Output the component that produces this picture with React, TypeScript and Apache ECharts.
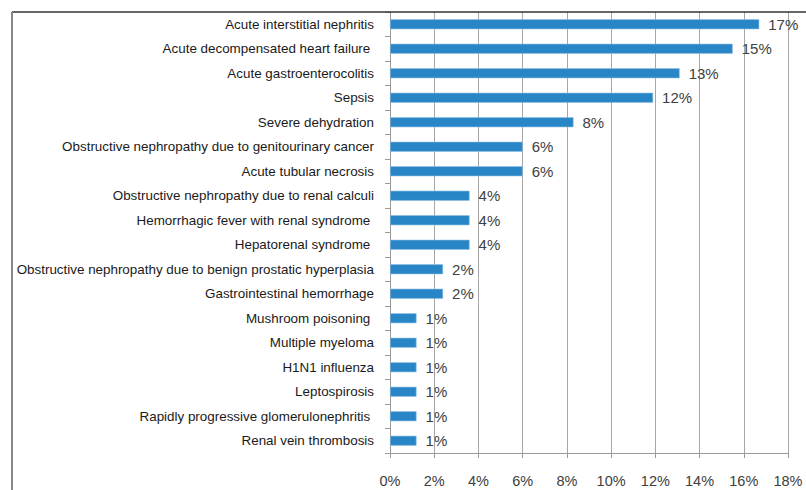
import React, { useEffect, useRef } from "react";
import * as echarts from "echarts";

const categories = [
  "Acute interstitial nephritis",
  "Acute decompensated heart failure ",
  "Acute gastroenterocolitis",
  "Sepsis",
  "Severe dehydration",
  "Obstructive nephropathy due to genitourinary cancer",
  "Acute tubular necrosis",
  "Obstructive nephropathy due to renal calculi",
  "Hemorrhagic fever with renal syndrome ",
  "Hepatorenal syndrome ",
  "Obstructive nephropathy due to benign prostatic hyperplasia",
  "Gastrointestinal hemorrhage",
  "Mushroom poisoning ",
  "Multiple myeloma",
  "H1N1 influenza",
  "Leptospirosis",
  "Rapidly progressive glomerulonephritis ",
  "Renal vein thrombosis",
];

const values = [16.7, 15.5, 13.1, 11.9, 8.3, 6.0, 6.0, 3.6, 3.6, 3.6, 2.4, 2.4, 1.2, 1.2, 1.2, 1.2, 1.2, 1.2];

const valueLabels = ["17%", "15%", "13%", "12%", "8%", "6%", "6%", "4%", "4%", "4%", "2%", "2%", "1%", "1%", "1%", "1%", "1%", "1%"];

const xTicks = { min: 0, max: 18, interval: 2 };

export default function App() {
  const ref = useRef<HTMLDivElement>(null);
  useEffect(() => {
    if (!ref.current) return;
    const chart = echarts.init(ref.current, undefined, { renderer: "svg" });
    const font = "'Liberation Sans', Arial, sans-serif";
    chart.setOption({
      animation: false,
      backgroundColor: "#ffffff",
      grid: { left: 390, right: 18, top: 12, bottom: 37, containLabel: false },
      xAxis: {
        type: "value",
        min: xTicks.min,
        max: xTicks.max,
        interval: xTicks.interval,
        axisLine: { show: true, lineStyle: { color: "#9a9a9a", width: 1 } },
        axisTick: { show: true, length: 5, lineStyle: { color: "#9a9a9a" } },
        axisLabel: {
          formatter: "{value}%",
          margin: 20,
          fontSize: 14.5,
          color: "#404040",
          fontFamily: font,
        },
        splitLine: { show: true, lineStyle: { color: "#a6a6a6", width: 1 } },
      },
      yAxis: {
        type: "category",
        data: categories,
        inverse: true,
        axisLine: { show: true, lineStyle: { color: "#9a9a9a", width: 1 } },
        axisTick: { show: true, length: 5, lineStyle: { color: "#9a9a9a" } },
        axisLabel: {
          margin: 16,
          fontSize: 13.4,
          color: "#1a1a1a",
          fontFamily: font,
        },
        splitLine: { show: false },
      },
      series: [
        {
          type: "bar",
          data: values,
          barWidth: 10,
          itemStyle: { color: "#2986c6", borderColor: "#8fc0e6", borderWidth: 0.6 },
          label: {
            show: true,
            position: "right",
            distance: 9,
            fontSize: 15,
            color: "#404040",
            fontFamily: font,
            formatter: (p: any) => valueLabels[p.dataIndex],
          },
        },
      ],
      graphic: [
        {
          type: "line",
          shape: { x1: 12, y1: 12, x2: 806, y2: 12 },
          style: { stroke: "#333333", lineWidth: 1.5 },
          z: 10,
        },
        {
          type: "line",
          shape: { x1: 12, y1: 12, x2: 12, y2: 490 },
          style: { stroke: "#888888", lineWidth: 2 },
          z: 10,
        },
      ],
    });
    return () => chart.dispose();
  }, []);
  return (
    <div
      ref={ref}
      style={{ position: "fixed", left: 0, top: 0, width: 806, height: 490 }}
    />
  );
}
